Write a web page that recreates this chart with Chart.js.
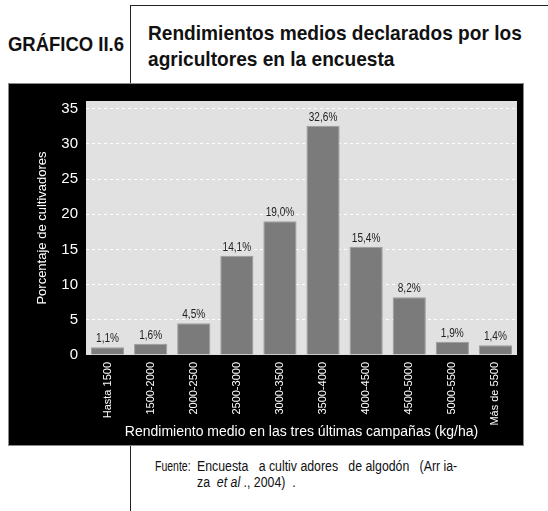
<!DOCTYPE html>
<html>
<head>
<meta charset="utf-8">
<script src="https://cdn.jsdelivr.net/npm/chart.js@4.4.1/dist/chart.umd.min.js"></script>
<style>
  html, body { margin:0; padding:0; background:#fff; width:548px; height:511px; overflow:hidden; }
  body { position:relative; font-family:'Liberation Sans',Arial,sans-serif; }
  .vline { position:absolute; left:130px; top:5px; width:1px; height:506px; background:#222; }
  .hline { position:absolute; left:130px; top:5px; width:418px; height:1px; background:#222; }
  .label { position:absolute; left:8px; top:32px; font-weight:bold; font-size:21px; color:#111; white-space:nowrap; transform:scaleX(0.88); transform-origin:left top; }
  .title { position:absolute; left:148px; top:20px; font-weight:bold; font-size:21px; line-height:26px; color:#111; white-space:nowrap; transform:scaleX(0.91); transform-origin:left top; }
  .panel { position:absolute; left:8px; top:83px; width:516px; height:363px; box-sizing:border-box; border:1px solid #8a8a8a; background:#000; }
  .chartbox { position:absolute; left:9px; top:84px; width:514px; height:361px; }
  .note { position:absolute; font-size:14px; color:#111; white-space:pre; line-height:16px; transform-origin:left top; }
</style>
</head>
<body>
<div class="vline"></div>
<div class="hline"></div>
<div class="label">GRÁFICO II.6</div>
<div class="title">Rendimientos medios declarados por los<br>agricultores en la encuesta</div>
<div class="panel"></div>
<div class="chartbox"><canvas id="c"></canvas></div>
<div class="note" style="left:155px; top:458px; transform:scaleX(0.75);">Fuente:</div>
<div class="note" style="left:197px; top:458px; transform:scaleX(0.88);">Encuesta   a cultiv adores   de algodón   (Arr ia-
za  <i>et al</i> ., 2004)  .</div>
<script>
const categories = ['Hasta 1500','1500-2000','2000-2500','2500-3000','3000-3500','3500-4000','4000-4500','4500-5000','5000-5500','Más de 5500'];
const values = [1.1, 1.6, 4.5, 14.1, 19.0, 32.6, 15.4, 8.2, 1.9, 1.4];
const valueLabels = ['1,1%','1,6%','4,5%','14,1%','19,0%','32,6%','15,4%','8,2%','1,9%','1,4%'];
const yTicks = [0, 5, 10, 15, 20, 25, 30, 35];

const REG = "'Liberation Sans',Arial,sans-serif";

const plotBg = {
  id: 'plotBg',
  beforeDraw(chart) {
    const {ctx, chartArea: a} = chart;
    ctx.save();
    ctx.fillStyle = '#000';
    ctx.fillRect(0, 0, chart.width, chart.height);
    ctx.fillStyle = '#e1e1e1';
    ctx.fillRect(a.left, a.top, a.right - a.left, a.bottom - a.top);
    ctx.restore();
  }
};
const valLabels = {
  id: 'valLabels',
  afterDatasetsDraw(chart) {
    const {ctx} = chart;
    const meta = chart.getDatasetMeta(0);
    meta.data.forEach((bar, i) => {
      ctx.save();
      ctx.translate(bar.x, bar.y - 5);
      ctx.scale(0.84, 1);
      ctx.fillStyle = '#222';
      ctx.font = '12px ' + REG;
      ctx.textAlign = 'center';
      ctx.textBaseline = 'alphabetic';
      ctx.fillText(valueLabels[i], 0, 0);
      ctx.restore();
    });
  }
};

new Chart(document.getElementById('c'), {
  type: 'bar',
  data: {
    labels: categories,
    datasets: [{
      data: values,
      backgroundColor: '#7b7b7b',
      borderColor: '#9c9c9c',
      borderWidth: 1,
      barPercentage: 0.77,
      categoryPercentage: 1.0
    }]
  },
  options: {
    responsive: true,
    maintainAspectRatio: false,
    animation: false,
    layout: { padding: { left: 0, top: 6, right: 6, bottom: 0 } },
    plugins: { legend: { display: false }, tooltip: { enabled: false } },
    scales: {
      x: {
        grid: { display: false, drawTicks: false },
        border: { display: false },
        ticks: {
          color: '#fff', font: { family: REG, size: 11 },
          minRotation: 90, maxRotation: 90, padding: 7, autoSkip: false
        },
        title: {
          display: true,
          text: 'Rendimiento medio en las tres últimas campañas (kg/ha)',
          color: '#fff', font: { family: REG, size: 14 },
          padding: { top: 0, bottom: 4 }
        },
        afterFit(scale) { scale.height = 90; }
      },
      y: {
        min: 0, max: 36.1,
        afterBuildTicks(scale) { scale.ticks = yTicks.map(v => ({ value: v })); },
        grid: {
          color: (c) => (c.tick && c.tick.value === 0) ? 'rgba(0,0,0,0)' : '#ffffff',
          lineWidth: 1, drawTicks: false
        },
        border: { display: false, dash: [3, 3] },
        ticks: { color: '#fff', font: { family: REG, size: 15 }, padding: 8 },
        title: {
          display: true, text: 'Porcentaje de cultivadores',
          color: '#fff', font: { family: REG, size: 13 },
          padding: { top: 26, bottom: 0 }
        },
        afterFit(scale) { scale.width = 77; }
      }
    }
  },
  plugins: [plotBg, valLabels]
});
</script>
</body>
</html>
